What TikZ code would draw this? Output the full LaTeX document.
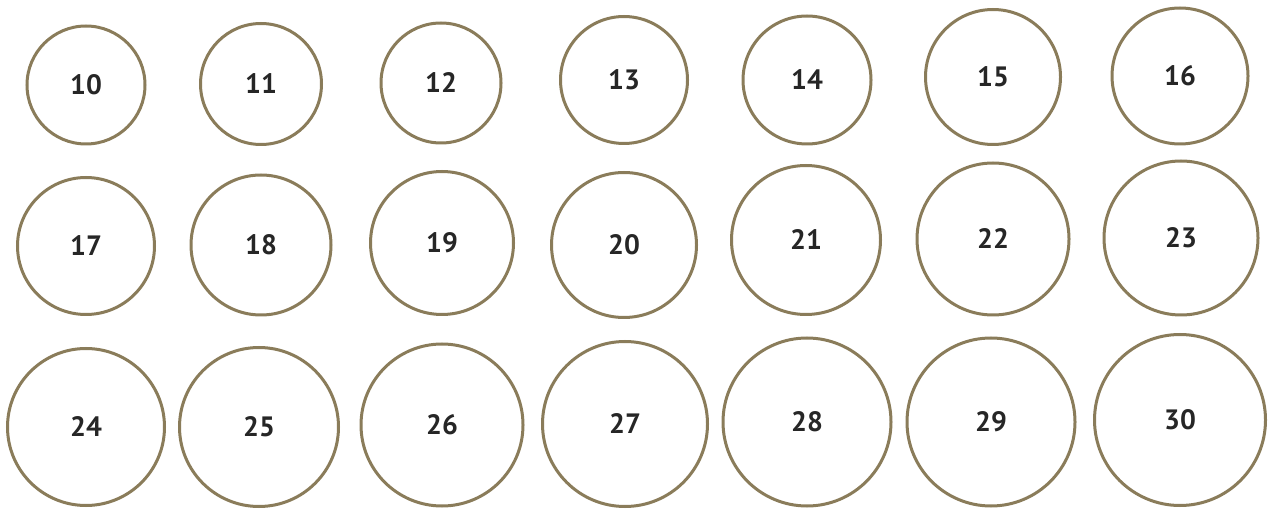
\documentclass[tikz,border=0pt]{standalone}
\usepackage{fontspec}
\setmainfont{PT Sans}
\definecolor{ringcol}{HTML}{8A7C5A}
\tikzset{
  ring/.style={circle, draw=ringcol, line width=3pt, fill=white, inner sep=0pt,
    minimum size=#1, font=\fontsize{28}{32}\selectfont\bfseries, text=black!85}
}
\begin{document}
\begin{tikzpicture}[x=1pt,y=-1pt]
\useasboundingbox (0,0) rectangle (1274,510);
% row 1
\node[ring=118] (n10) at (86,85) {10};
\node[ring=121] (n11) at (261,84) {11};
\node[ring=120] (n12) at (441,83) {12};
\node[ring=127] (n13) at (624,80) {13};
\node[ring=128] (n14) at (807,80) {14};
\node[ring=135] (n15) at (993,77) {15};
\node[ring=136] (n16) at (1180,76) {16};
% row 2
\node[ring=137] (n17) at (86,246) {17};
\node[ring=140] (n18) at (261,245) {18};
\node[ring=143] (n19) at (442,243) {19};
\node[ring=145] (n20) at (624,245) {20};
\node[ring=149] (n21) at (806,240) {21};
\node[ring=152] (n22) at (993,239) {22};
\node[ring=154] (n23) at (1181,238) {23};
% row 3
\node[ring=157] (n24) at (86,427) {24};
\node[ring=159] (n25) at (259,427) {25};
\node[ring=162] (n26) at (442,425) {26};
\node[ring=165] (n27) at (625,424) {27};
\node[ring=168] (n28) at (807,422) {28};
\node[ring=168] (n29) at (991,422) {29};
\node[ring=171] (n30) at (1180,420) {30};
\end{tikzpicture}
\end{document}
